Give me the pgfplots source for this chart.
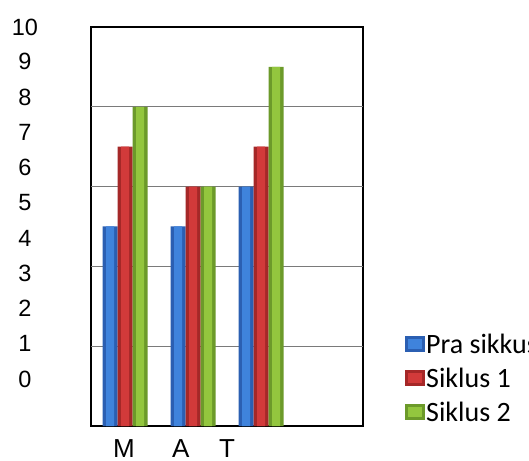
\documentclass[border=0pt]{standalone}
\usepackage{fontspec}
\setmainfont{Liberation Sans}
\newfontfamily\carlito{Carlito}
\usepackage{pgfplots}
\usepackage{pgfplotstable}
\pgfplotsset{compat=1.18}

\definecolor{bluedk}{HTML}{2B5FB2}
\definecolor{bluelt}{HTML}{3F83DC}
\definecolor{reddk}{HTML}{A52828}
\definecolor{redlt}{HTML}{D23A3A}
\definecolor{greendk}{HTML}{6C9A2A}
\definecolor{greenlt}{HTML}{93C63E}
\definecolor{gridgray}{HTML}{7A7A7A}

% M, A, T
\pgfplotstableread{
x pra s1 s2
0 5 7 8
1 5 6 6
2 6 7 9
}\data

\begin{document}
\begin{tikzpicture}
\path[use as bounding box, clip] (0pt,0pt) rectangle (529pt,460pt);
\begin{axis}[
    at={(91pt,34pt)}, anchor=south west,
    scale only axis, width=272pt, height=399pt,
    xmin=-0.5, xmax=3.5, ymin=0, ymax=10,
    ybar=0pt,
    axis line style={line width=1.6pt, black},
    tick style={draw=none},
    major tick length=0pt,
    xtick={-0.015,0.82,1.5}, xticklabels={M,A,T},
    xticklabel style={anchor=base, yshift=-31.5pt, font=\fontsize{26}{28}\selectfont},
    ytick={1.18,2.06,2.95,3.83,4.71,5.60,6.48,7.36,8.24,9.13,9.999},
    yticklabels={0,1,2,3,4,5,6,7,8,9,10},
    yticklabel style={anchor=center, xshift=-66pt, font=\fontsize{23.5}{25}\selectfont},
    extra y ticks={2,4,6,8}, extra y tick labels={},
    extra y tick style={grid=major, major grid style={gridgray, line width=1.2pt}},
    legend style={at={(1.1544,0.119)}, anchor=west, draw=none, fill=none,
        inner sep=0pt, row sep=0pt, column sep=1pt,
        font=\carlito\fontsize{28}{30}\selectfont,
        nodes={inner sep=0pt, text height=26pt, text depth=8pt}},
    legend cell align=left,
]
\addplot[bar width=15pt, bar shift=-15pt, fill=bluedk, draw=none,
    legend image code/.code={\fill[bluedk] (0pt,-7pt) rectangle (20pt,9pt);
        \fill[bluelt] (3pt,-4pt) rectangle (17pt,6pt);}]
    table[x=x, y=pra] {\data};
\addlegendentry{Pra sikkus}
\addplot[bar width=8pt, bar shift=-15pt, fill=bluelt, draw=none, forget plot]
    table[x=x, y=pra] {\data};
\addplot[bar width=15pt, bar shift=0pt, fill=reddk, draw=none,
    legend image code/.code={\fill[reddk] (0pt,-7pt) rectangle (20pt,9pt);
        \fill[redlt] (3pt,-4pt) rectangle (17pt,6pt);}]
    table[x=x, y=s1] {\data};
\addlegendentry{Siklus 1}
\addplot[bar width=8pt, bar shift=0pt, fill=redlt, draw=none, forget plot]
    table[x=x, y=s1] {\data};
\addplot[bar width=15pt, bar shift=15pt, fill=greendk, draw=none,
    legend image code/.code={\fill[greendk] (0pt,-7pt) rectangle (20pt,9pt);
        \fill[greenlt] (3pt,-4pt) rectangle (17pt,6pt);}]
    table[x=x, y=s2] {\data};
\addlegendentry{Siklus 2}
\addplot[bar width=8pt, bar shift=15pt, fill=greenlt, draw=none, forget plot]
    table[x=x, y=s2] {\data};
\end{axis}
\end{tikzpicture}
\end{document}
